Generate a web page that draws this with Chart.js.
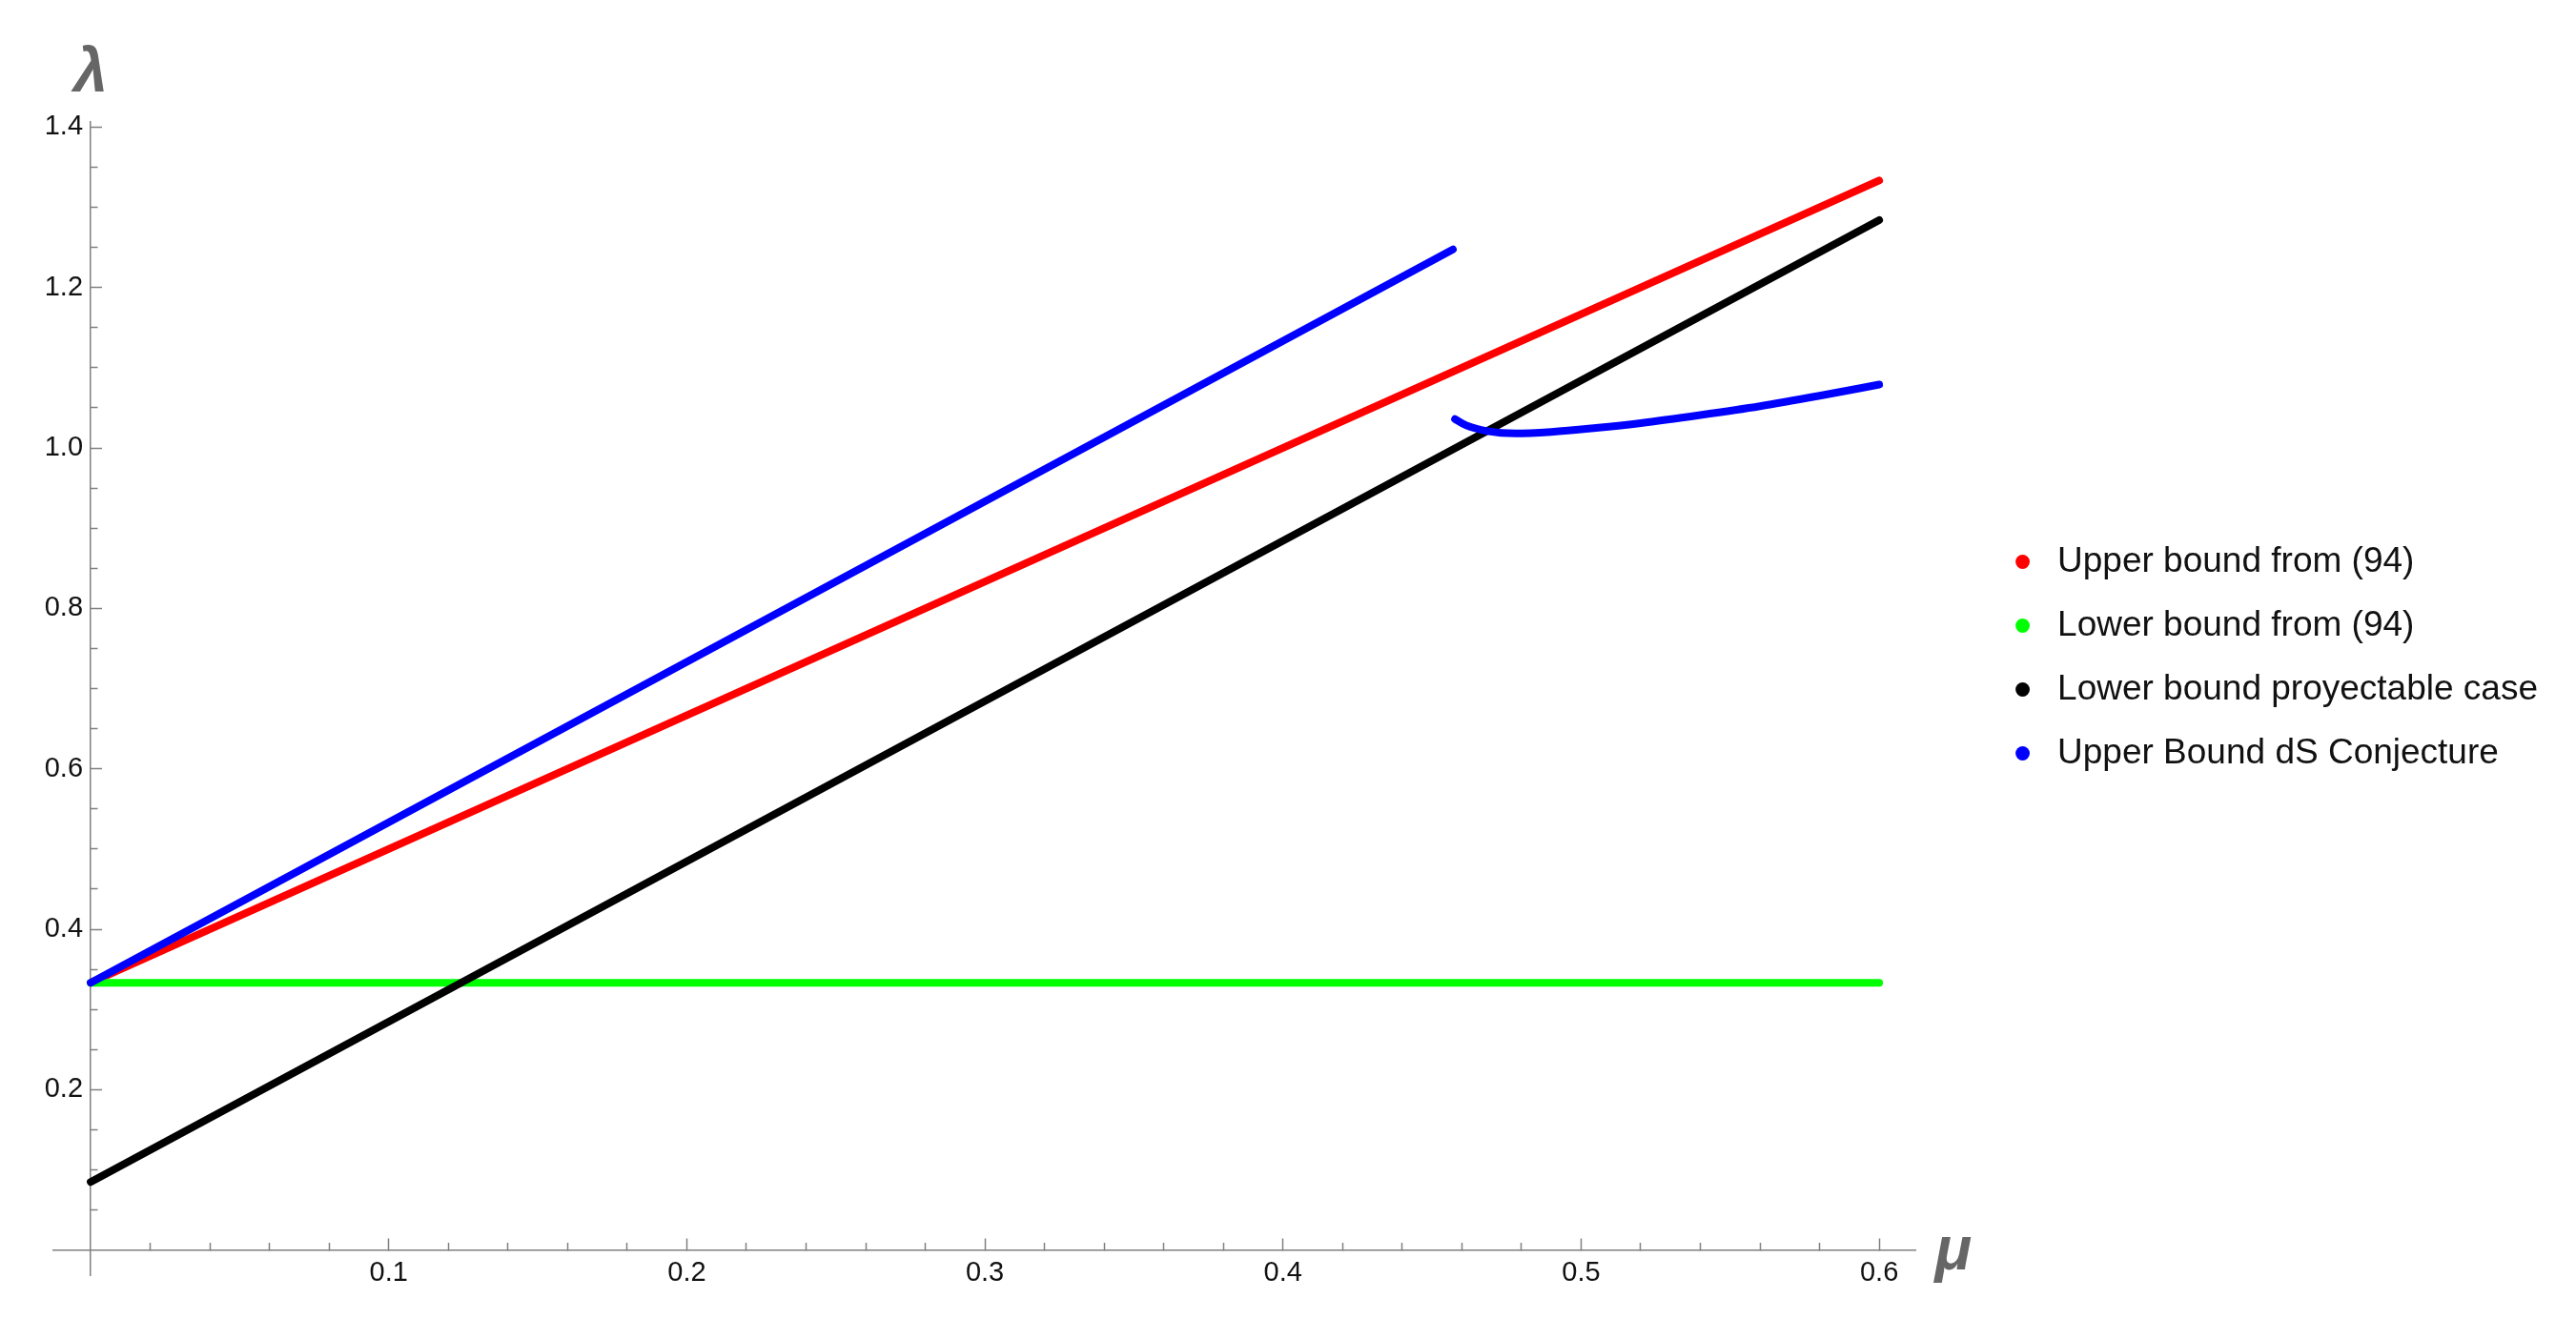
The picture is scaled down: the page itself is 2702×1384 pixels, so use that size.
<!DOCTYPE html>
<html>
<head>
<meta charset="utf-8">
<title>Bounds on lambda</title>
<script src="https://cdn.jsdelivr.net/npm/chart.js@4.4.1/dist/chart.umd.min.js"></script>
<style>
  html, body { margin: 0; padding: 0; background: #fff; }
  #wrap { width: 2702px; height: 1384px; position: relative; }
</style>
</head>
<body>
<div id="wrap"><canvas id="chart"></canvas></div>
<script>
// values: mu on the x axis, lambda on the y axis
const upperMu = [0, 0.6];
const upperLambda = [0.3333, 1.3333];
const lowerMu = [0, 0.6];
const lowerLambda = [0.3333, 0.3333];
const proyMu = [0, 0.6];
const proyLambda = [0.085, 1.284];
// dS conjecture: straight piece, a break (null), then the curved piece
const dsMu = [0, 0.457, 0.4574, 0.4577, 0.4615, 0.4685, 0.478, 0.49, 0.505, 0.52, 0.54, 0.56, 0.58, 0.6];
const dsLambda = [0.3333, 1.2475, null, 1.036, 1.028, 1.021, 1.018, 1.02, 1.025, 1.031, 1.041, 1.052, 1.065, 1.079];

const seriesNames = ["Upper bound from (94)", "Lower bound from (94)", "Lower bound proyectable case", "Upper Bound dS Conjecture"];
const seriesColors = ["#ff0000", "#00ff00", "#000000", "#0000ff"];

const xTicks = [0.1, 0.2, 0.3, 0.4, 0.5, 0.6];
const xTickLabels = ["0.1", "0.2", "0.3", "0.4", "0.5", "0.6"];
const xMinorTicks = [0.02, 0.04, 0.06, 0.08, 0.12, 0.14, 0.16, 0.18, 0.22, 0.24, 0.26, 0.28,
  0.32, 0.34, 0.36, 0.38, 0.42, 0.44, 0.46, 0.48, 0.52, 0.54, 0.56, 0.58];
const yTicks = [0.2, 0.4, 0.6, 0.8, 1.0, 1.2, 1.4];
const yTickLabels = ["0.2", "0.4", "0.6", "0.8", "1.0", "1.2", "1.4"];
const yMinorTicks = [0.05, 0.1, 0.15, 0.25, 0.3, 0.35, 0.45, 0.5, 0.55, 0.65, 0.7, 0.75,
  0.85, 0.9, 0.95, 1.05, 1.1, 1.15, 1.25, 1.3, 1.35];

const FONT = "'Liberation Sans', Arial, sans-serif";
const axisGray = "#808080";

const pts = (xs, ys) => xs.map((x, i) => ({ x: x, y: ys[i] }));
const majorIndex = (list, v) => list.findIndex(t => Math.abs(t - v) < 1e-9);

// major and minor ticks on one axis; minor ones are cut short with a dash
function axisOptions(pos, min, max, major, minor, labels, suffix, pad) {
  return {
    type: "linear", position: pos, min: min, max: max,
    afterBuildTicks: (scale) => {
      scale.ticks = major.concat(minor).sort((a, b) => a - b).map(v => ({ value: v }));
    },
    border: { color: axisGray, width: 1.5 },
    grid: {
      drawOnChartArea: false, tickLength: -13, tickColor: axisGray, tickWidth: 1.5,
      tickBorderDash: (c) => majorIndex(major, c.tick.value) >= 0 ? [] : [8.5, 100]
    },
    ticks: {
      autoSkip: false, maxRotation: 0, padding: pad, color: "#111",
      font: { family: FONT, size: 29 },
      callback: (v) => {
        const k = majorIndex(major, v);
        return k >= 0 ? labels[k] + suffix : "";
      }
    }
  };
}

function lineSet(i, xs, ys, order, extra) {
  return Object.assign({
    label: seriesNames[i],
    data: pts(xs, ys),
    showLine: true,
    borderColor: seriesColors[i],
    backgroundColor: seriesColors[i],
    borderWidth: 8,
    borderCapStyle: "round",
    pointRadius: 0,
    pointBorderWidth: 0,
    pointHoverRadius: 0,
    tension: 0,
    spanGaps: false,
    order: order
  }, extra || {});
}

// axis names λ and μ sit at the ends of the axes, as in the original
const axisNames = {
  id: "axisNames",
  afterDraw(chart) {
    const { ctx } = chart;
    const x = chart.scales.x, y = chart.scales.y;
    ctx.save();
    ctx.fillStyle = "#666";
    ctx.font = "italic bold 64px " + FONT;
    ctx.textBaseline = "alphabetic";
    ctx.textAlign = "center";
    ctx.fillText("λ", x.getPixelForValue(0), y.top - 32);
    ctx.textAlign = "left";
    ctx.fillText("μ", x.right + 20, y.getPixelForValue(0) + 20);
    ctx.restore();
  }
};

new Chart(document.getElementById("chart"), {
  type: "scatter",
  data: {
    datasets: [
      lineSet(0, upperMu, upperLambda, 4),
      lineSet(1, lowerMu, lowerLambda, 3),
      lineSet(2, proyMu, proyLambda, 2),
      lineSet(3, dsMu, dsLambda, 1, { cubicInterpolationMode: "monotone" })
    ]
  },
  options: {
    responsive: true,
    maintainAspectRatio: false,
    animation: false,
    layout: { padding: { left: 56, top: 42, right: 30, bottom: 46 } },
    scales: {
      x: axisOptions({ y: 0 }, -0.0125, 0.6123, xTicks, xMinorTicks, xTickLabels, "", 20),
      y: axisOptions({ x: 0 }, -0.0312, 1.4069, yTicks, yMinorTicks, yTickLabels, " ", 0),
      // hidden right-hand axis only keeps the gap between plot and legend
      gap: {
        type: "linear", axis: "y", position: "right", display: false,
        afterFit: (s) => { s.width = 64; }
      }
    },
    plugins: {
      // empty title only reserves the room above the plot where λ is written
      title: { display: true, text: "", fullSize: false, padding: 0, font: { size: 85.5, lineHeight: 1 } },
      legend: {
        position: "right",
        align: "center",
        labels: {
          usePointStyle: true, pointStyle: "circle",
          boxWidth: 36, boxHeight: 10.5, padding: 30,
          color: "#111", font: { family: FONT, size: 37 },
          sort: (a, b) => a.datasetIndex - b.datasetIndex
        }
      },
      tooltip: { enabled: false }
    }
  },
  plugins: [axisNames]
});
</script>
</body>
</html>
